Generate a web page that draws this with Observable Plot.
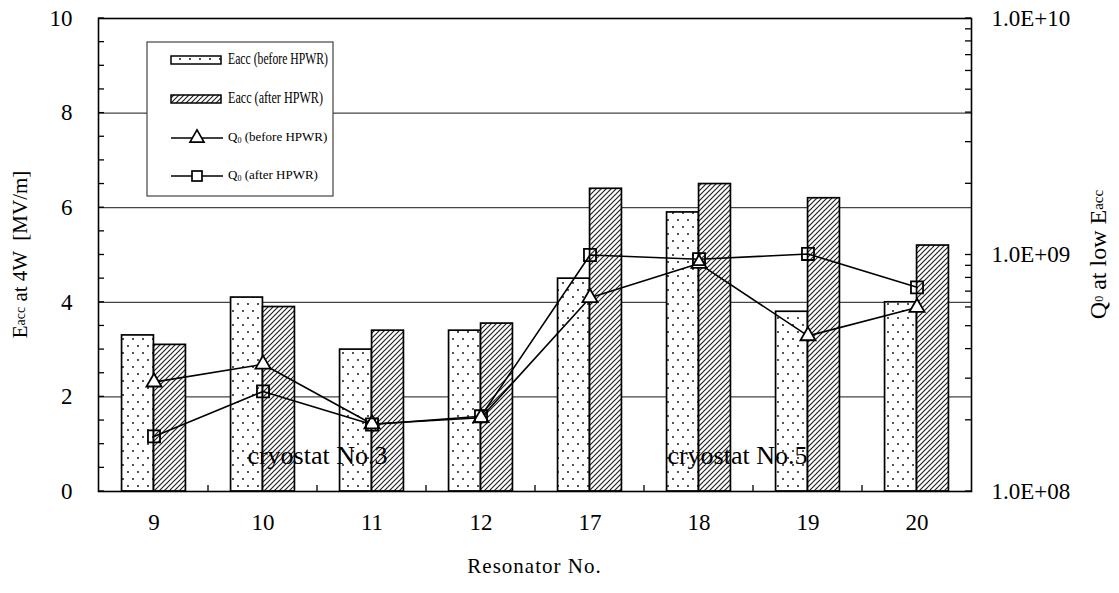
<!DOCTYPE html>
<html><head><meta charset="utf-8">
<script src="https://cdn.jsdelivr.net/npm/d3@7"></script>
<script src="https://cdn.jsdelivr.net/npm/@observablehq/plot@0.6"></script>
<style>body{margin:0;background:#fff} svg{display:block}</style>
</head><body><div id="chart"></div>
<script>
// ---- data ----
const resonators = ["9","10","11","12","17","18","19","20"];
const eaccBefore = [3.3, 4.1, 3.0, 3.4, 4.5, 5.9, 3.8, 4.0];
const eaccAfter  = [3.1, 3.9, 3.4, 3.55, 6.4, 6.5, 6.2, 5.2];
const q0Before   = [2.9e8, 3.45e8, 1.93e8, 2.05e8, 6.6e8, 9.2e8, 4.55e8, 6.0e8];
const q0After    = [1.71e8, 2.65e8, 1.92e8, 2.08e8, 1.0e9, 9.6e8, 1.01e9, 7.3e8];
const leftTicks  = [0, 2, 4, 6, 8, 10];
const gridValues = [2, 4, 6, 8];
const qTicks     = [1e8, 1e9, 1e10];
const qTickLabels = ["1.0E+08", "1.0E+09", "1.0E+10"];
const seriesNames = ["Eacc (before HPWR)", "Eacc (after HPWR)", "(before HPWR)", "(after HPWR)"];
const annotations = ["cryostat No.3", "cryostat No.5"];

// ---- layout ----
const W = 1119, H = 593, mL = 98, mR = 148, mT = 18, mB = 102;
const FONT = "'Liberation Serif', 'Times New Roman', serif";
const bw = (W - mL - mR) / resonators.length;
const barW = 32;
// Q0 (log, 1e8..1e10) is shown against the same vertical range as Eacc (0..10)
const qToY = q => 5 * Math.log10(q / 1e8);

const barsBefore = resonators.map((r, i) => ({res: r, v: eaccBefore[i]}));
const barsAfter  = resonators.map((r, i) => ({res: r, v: eaccAfter[i]}));
const qB = resonators.map((r, i) => ({res: r, y: qToY(q0Before[i])}));
const qA = resonators.map((r, i) => ({res: r, y: qToY(q0After[i])}));

const defs = () => {
  const d = d3.create("svg:defs");
  const p1 = d.append("pattern").attr("id", "dots").attr("patternUnits", "userSpaceOnUse")
    .attr("width", 10).attr("height", 14);
  p1.append("rect").attr("width", 10).attr("height", 14).attr("fill", "white");
  p1.append("circle").attr("cx", 3).attr("cy", 3).attr("r", 0.9).attr("fill", "black");
  p1.append("circle").attr("cx", 8).attr("cy", 10).attr("r", 0.9).attr("fill", "black");
  const p2 = d.append("pattern").attr("id", "hatch").attr("patternUnits", "userSpaceOnUse")
    .attr("width", 5).attr("height", 5);
  p2.append("rect").attr("width", 5).attr("height", 5).attr("fill", "white");
  p2.append("path").attr("d", "M-1,1 l2,-2 M0,5 l5,-5 M4,6 l2,-2")
    .attr("stroke", "#222").attr("stroke-width", 1.2);
  return d.node();
};

const plot = Plot.plot({
  width: W, height: H,
  marginLeft: mL, marginRight: mR, marginTop: mT, marginBottom: mB,
  style: {fontFamily: FONT, background: "white", color: "black", overflow: "visible"},
  x: {type: "band", domain: resonators, padding: 0},
  y: {domain: [0, 10]},
  marks: [
    defs,
    Plot.ruleY(gridValues, {stroke: "#444", strokeWidth: 1.2}),
    Plot.barY(barsBefore, {x: "res", y: "v", fill: "url(#dots)", stroke: "black", strokeWidth: 1.7,
      insetLeft: bw / 2 - barW, insetRight: bw / 2}),
    Plot.barY(barsAfter, {x: "res", y: "v", fill: "url(#hatch)", stroke: "black", strokeWidth: 1.7,
      insetLeft: bw / 2, insetRight: bw / 2 - barW}),
    Plot.frame({stroke: "black", strokeWidth: 1.6}),
    Plot.axisY(leftTicks, {anchor: "left", tickSize: 0, tickPadding: 26, fontSize: 23, label: null}),
    Plot.axisY(qTicks.map(qToY), {anchor: "right", tickSize: 0, tickPadding: 20, fontSize: 23, label: null,
      tickFormat: (d, i) => qTickLabels[i]}),
    Plot.axisX({tickSize: 0, tickPadding: 22, fontSize: 23, label: null}),
    Plot.line(qB, {x: "res", y: "y", stroke: "black", strokeWidth: 1.6}),
    Plot.line(qA, {x: "res", y: "y", stroke: "black", strokeWidth: 1.6}),
    Plot.dot(qB, {x: "res", y: "y", symbol: "triangle", r: 5.6, fill: "white", stroke: "black", strokeWidth: 1.8}),
    Plot.dot(qA, {x: "res", y: "y", symbol: "square", r: 6.8, fill: "none", stroke: "black", strokeWidth: 1.8}),
    Plot.text([annotations[0]], {x: () => "11", y: () => 0.76, text: d => d, dx: -bw / 2, fontSize: 26, textAnchor: "middle", lineAnchor: "middle"}),
    Plot.text([annotations[1]], {x: () => "19", y: () => 0.76, text: d => d, dx: -bw / 2 - 16, fontSize: 26, textAnchor: "middle", lineAnchor: "middle"})
  ]
});
document.getElementById("chart").appendChild(plot);

// ---- axis ticks, titles, legend (positioned with the plot's scales) ----
const svg = d3.select(plot);
const ys = plot.scale("y"), xs = plot.scale("x");
const xL = mL, xR = W - mR, yB = ys.apply(0);
const tickG = svg.append("g").attr("stroke", "black").attr("stroke-width", 1.3);
d3.range(0, 10.01, 0.5).forEach(v => {
  const y = ys.apply(v);
  tickG.append("line").attr("x1", xL).attr("x2", xL + 6).attr("y1", y).attr("y2", y);
});
const minorQ = [];
[1e8, 1e9].forEach(b => { for (let k = 1; k <= 9; k++) minorQ.push(b * k); });
minorQ.push(1e10);
minorQ.forEach(q => {
  const y = ys.apply(qToY(q));
  tickG.append("line").attr("x1", xR - 6).attr("x2", xR).attr("y1", y).attr("y2", y);
});
resonators.slice(1).forEach(r => {
  const x = xs.apply(r);
  tickG.append("line").attr("x1", x).attr("x2", x).attr("y1", yB).attr("y2", yB - 6);
});

svg.append("text").attr("x", (xL + xR) / 2).attr("y", 568).attr("text-anchor", "middle")
  .attr("dominant-baseline", "middle").attr("font-size", 21).attr("letter-spacing", 1)
  .attr("font-family", FONT).text("Resonator No.");

const lt = svg.append("text").attr("transform", `translate(22,${(mT + yB) / 2}) rotate(-90)`)
  .attr("text-anchor", "middle").attr("dominant-baseline", "middle").attr("font-family", FONT).attr("font-size", 21);
lt.append("tspan").text("E");
lt.append("tspan").attr("font-size", 14).text("acc");
lt.append("tspan").text(" at 4W  [MV/m]");

const rt = svg.append("text").attr("transform", `translate(1100,${(mT + yB) / 2}) rotate(-90)`)
  .attr("text-anchor", "middle").attr("dominant-baseline", "middle").attr("font-family", FONT).attr("font-size", 24);
rt.append("tspan").text("Q");
rt.append("tspan").attr("font-size", 12).text("0");
rt.append("tspan").text(" at low E");
rt.append("tspan").attr("font-size", 15).text("acc");

// legend
const lg = svg.append("g").attr("transform", "translate(147,42)").attr("font-family", FONT);
lg.append("rect").attr("width", 186).attr("height", 154).attr("fill", "white").attr("stroke", "#444").attr("stroke-width", 1.2);
const rows = [18, 57, 96, 134];
const sx0 = 24, sx1 = 74, tx = 81;
const textLens = [100, 95];
lg.append("rect").attr("x", sx0).attr("y", rows[0] - 4).attr("width", sx1 - sx0).attr("height", 8)
  .attr("fill", "url(#dots)").attr("stroke", "black").attr("stroke-width", 1.5);
lg.append("rect").attr("x", sx0).attr("y", rows[1] - 4).attr("width", sx1 - sx0).attr("height", 8)
  .attr("fill", "url(#hatch)").attr("stroke", "black").attr("stroke-width", 1.5);
[2, 3].forEach(i => lg.append("line").attr("x1", sx0).attr("x2", sx1 + 2).attr("y1", rows[i]).attr("y2", rows[i])
  .attr("stroke", "black").attr("stroke-width", 1.6));
lg.append("path").attr("d", d3.symbol(d3.symbolTriangle, Math.PI * 5.2 * 5.2)())
  .attr("transform", `translate(${(sx0 + sx1) / 2 + 1},${rows[2]})`).attr("fill", "white").attr("stroke", "black").attr("stroke-width", 1.7);
lg.append("rect").attr("x", (sx0 + sx1) / 2 + 1 - 5).attr("y", rows[3] - 5).attr("width", 10).attr("height", 10)
  .attr("fill", "white").attr("stroke", "black").attr("stroke-width", 1.7);
rows.forEach((ry, i) => {
  const t = lg.append("text").attr("x", tx).attr("y", ry).attr("text-anchor", "start")
    .attr("dominant-baseline", "middle");
  if (i < 2) {
    t.attr("font-size", 16).attr("textLength", textLens[i]).attr("lengthAdjust", "spacingAndGlyphs")
      .text(seriesNames[i]);
  } else {
    t.attr("font-size", 13);
    t.append("tspan").text("Q");
    t.append("tspan").attr("font-size", 8).attr("dy", 3).text("0");
    t.append("tspan").attr("dy", -3).text(" " + seriesNames[i]);
  }
});
</script></body></html>
